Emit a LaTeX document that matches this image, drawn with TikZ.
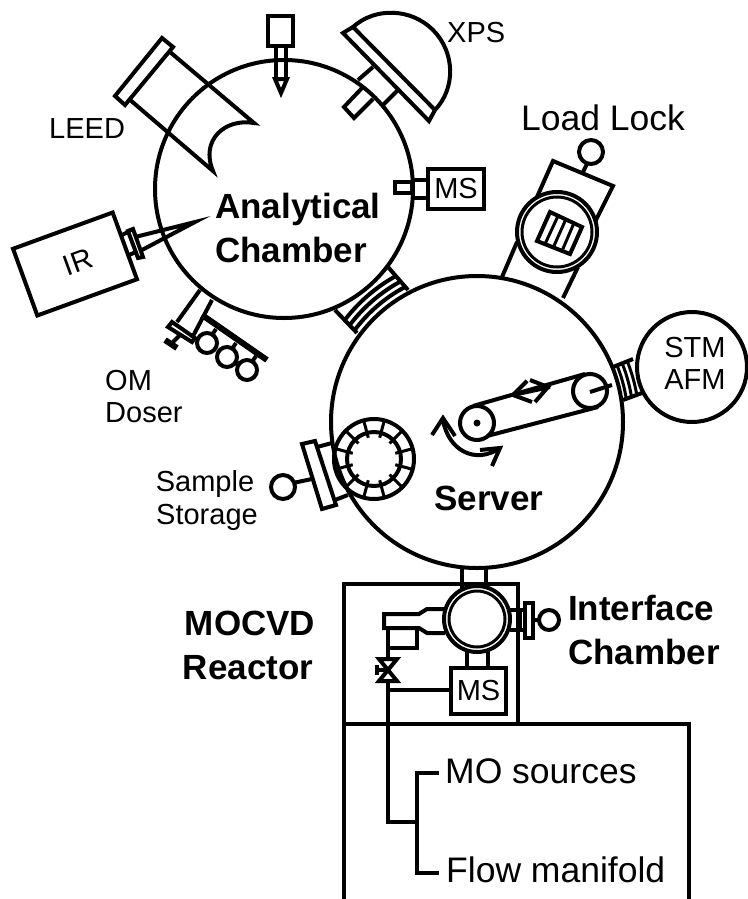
\documentclass[tikz,border=0pt]{standalone}
\usepackage{fontspec}
\setmainfont{Liberation Sans}
\tikzset{
  ln/.style={draw=black,line width=4pt,line join=miter},
  fine/.style={draw=black,line width=3pt},
  lab/.style={inner sep=0pt,font=\fontsize{29}{29}\selectfont,anchor=base west},
  big/.style={inner sep=0pt,font=\fontsize{35.5}{35.5}\selectfont,anchor=base west},
  bold/.style={inner sep=0pt,font=\fontsize{35}{35}\selectfont\bfseries,anchor=base},
}
\begin{document}
\begin{tikzpicture}[x=1pt,y=-1pt]
\useasboundingbox (0,0) rectangle (747,899);
% chambers
\node[circle,ln,minimum size=258pt,inner sep=0pt] (ana) at (284,189) {};
\node[circle,ln,minimum size=292pt,inner sep=0pt] (srv) at (477,422) {};
% LEED
\draw[ln] (162,38) -- (173,47) -- (125,105) -- (115,96) -- cycle;
\draw[ln] (170,52) -- (254,123) .. controls (225,118) and (200,140) .. (213,171) -- (129,99);
% probe
\draw[ln] (268,16) rectangle (293,46);
\draw[ln] (276,46) rectangle (286,79);
\draw[ln] (275,79) -- (287,79) -- (281,93) -- cycle;
% XPS
\draw[ln] (343,33) -- (353,27) .. controls (375,7) and (411,8) .. (433,30) .. controls (455,52) and (456,88) .. (435,110) -- (429,121) -- cycle;
\draw[ln] (353,27) -- (435,110);
\draw[ln] (373,67) -- (358,80);
\draw[ln] (398,90) -- (383,105);
\draw[ln] (362,88) -- (344,107) -- (354,118) -- (373,99);
% MS top
\node[draw=black,line width=4pt,minimum width=56pt,minimum height=40pt,inner sep=0pt,font=\fontsize{29}{29}\selectfont] (ms1) at (456,189) {MS};
\draw[ln] (413,180) -- (428,180) (413,198) -- (428,198);
\draw[ln] (395,182) rectangle (412,193);
% IR
\node[draw=black,line width=4pt,minimum width=106pt,minimum height=71pt,inner sep=0pt,rotate=20] (ir) at (75,264) {};
\node[inner sep=0pt,rotate=20,font=\fontsize{29}{29}\selectfont] (irt) at (78,262) {IR};
\draw[ln] (133,229) -- (143,257) -- (138,258) -- (128,231) -- cycle;
\draw[ln] (122,235) -- (128,232) (129,255) -- (136,252);
\draw[ln] (135,237) -- (195,222) -- (142,250);
% OM doser
\draw[ln] (200,290) -- (177,322) (212,300) -- (192,338);
\draw[ln] (172,322) -- (195,338) -- (192,342) -- (168,327) -- cycle;
\draw[ln] (180,335) -- (173,342);
\draw[draw=black,line width=6pt] (165,340) -- (177,348);
\draw[draw=black,line width=6pt] (202,315) -- (267,360);
\draw[ln] (207,343) circle[radius=10pt] (227,357) circle[radius=10pt] (247,370) circle[radius=10pt];
\draw[ln] (212,335) -- (216,329) (232,349) -- (236,343) (252,362) -- (256,356);
% bellows ana-srv
\begin{scope}
\clip (335,310) -- (357,333) -- (408,290) -- (388,267) -- cycle;
\draw[ln] (477,422) circle[radius=153pt] (477,422) circle[radius=160pt] (477,422) circle[radius=167pt];
\end{scope}
\draw[ln] (335,310) -- (357,333) (388,267) -- (408,290);
% bellows srv-stm
\begin{scope}
\clip (613,367) -- (633,359) -- (642,393) -- (623,400) -- cycle;
\draw[fine] (477,422) circle[radius=151pt] (477,422) circle[radius=156.5pt] (477,422) circle[radius=162pt];
\end{scope}
\draw[ln] (613,367) -- (633,359) (623,400) -- (642,393);
% load lock
\draw[ln] (537,197) -- (553,161) -- (613,186) -- (595,222);
\draw[ln] (517,242) -- (502,277) (578,267) -- (563,298);
\draw[ln] (557,232) circle[radius=40pt];
\draw[fine] (557,232) circle[radius=35pt];
\draw[ln] (550,212) -- (582,227) -- (570,254) -- (537,241) -- cycle;
\draw[fine] (558,216) -- (545,244) (566,219) -- (553,248) (574,223) -- (562,251);
\draw[ln] (591,152) circle[radius=12pt] (583,172) -- (587,164);
% STM
\node[circle,ln,minimum size=110pt,inner sep=0pt] (stm) at (692,367) {};
% server inside
\draw[ln] (477,423) circle[radius=17pt];
\fill (477,423) circle[radius=3.5pt];
\draw[ln] (590,391) circle[radius=17pt];
\draw[ln] (473,406) -- (585,374) (487,436) -- (598,407);
\draw[ln] (590,392) -- (612,385);
\draw[ln] (513,395) -- (550,387);
\draw[ln] (527,381) -- (513,395) -- (532,402);
\draw[ln] (530,380) -- (548,387) -- (535,402);
\draw[ln] (443,420) .. controls (448,450) and (475,465) .. (500,448);
\draw[ln] (432,435) -- (443,418) -- (455,436);
\draw[ln] (480,450) -- (500,448) -- (492,466);
% storage
\draw[ln] (374,459) circle[radius=40pt] (374,459) circle[radius=27pt];
\foreach \a in {15,45,...,345} \draw[fine] (374,459) ++({\a}:22pt) -- ++({\a}:18pt);
\draw[ln] (302,444) -- (315,441) -- (336,505) -- (322,509) -- cycle;
\draw[ln] (317,447) -- (332,443) (335,500) -- (348,495);
\draw[ln] (283,487) circle[radius=12pt] (293,483) -- (312,479);
% MOCVD
\draw[ln] (344,899) -- (344,584) -- (518,584) -- (518,724);
\draw[ln] (344,724) -- (689,724) -- (689,899);
\draw[ln] (462,568) -- (462,588) (486,568) -- (486,588);
\draw[ln] (477,619) circle[radius=33pt];
\draw[fine] (477,619) circle[radius=28pt];
\draw[ln] (525,603) rectangle (533,638);
\draw[ln] (510,610) -- (525,610) (510,630) -- (525,630) (520,610) -- (520,630);
\draw[ln] (549,620) circle[radius=10pt] (533,620) -- (539,620);
\draw[ln] (445,609) -- (427,609) -- (419,614) -- (384,614) -- (384,628) -- (419,628) -- (427,633) -- (445,633);
\draw[ln] (417,628) -- (417,648) -- (388,648);
\draw[ln] (388,628) -- (388,659) (388,681) -- (388,822) -- (417,822);
\draw[ln] (379,659) -- (397,659) -- (379,681) -- (397,681) -- cycle;
\draw[ln] (388,670) -- (377,670) (377,665) -- (377,675);
\node[draw=black,line width=4pt,minimum width=55pt,minimum height=46pt,inner sep=0pt,font=\fontsize{29}{29}\selectfont] (ms2) at (478.5,691) {MS};
\draw[ln] (467,650) -- (467,668) (488,650) -- (488,668);
\draw[ln] (388,690) -- (451,690);
\draw[ln] (439,773) -- (417,773) -- (417,873) -- (439,873);
% labels
\node[lab] (t1) at (49,138) {LEED};
\node[lab] (t2) at (447,43) {XPS};
\node[big] (t3) at (521,130) {Load Lock};
\node[lab] (t4) at (105,390) {OM};
\node[lab] (t5) at (105,422) {Doser};
\node[lab,anchor=base] (t6) at (205,491) {Sample};
\node[lab,anchor=base] (t7) at (207,524) {Storage};
\node[bold] (t8) at (298,218) {Analytical};
\node[bold] (t9) at (291,262) {Chamber};
\node[bold] (t10) at (489,510) {Server};
\node[bold] (t11) at (250,635) {MOCVD};
\node[bold] (t12) at (248,679) {Reactor};
\node[bold,anchor=base west] (t13) at (568,620) {Interface};
\node[bold,anchor=base west] (t14) at (568,664) {Chamber};
\node[lab,anchor=base] (t15) at (695,357) {STM};
\node[lab,anchor=base] (t16) at (695,389) {AFM};
\node[big] (t17) at (445,783) {MO sources};
\node[big] (t18) at (446,882) {Flow manifold};
\end{tikzpicture}
\end{document}
